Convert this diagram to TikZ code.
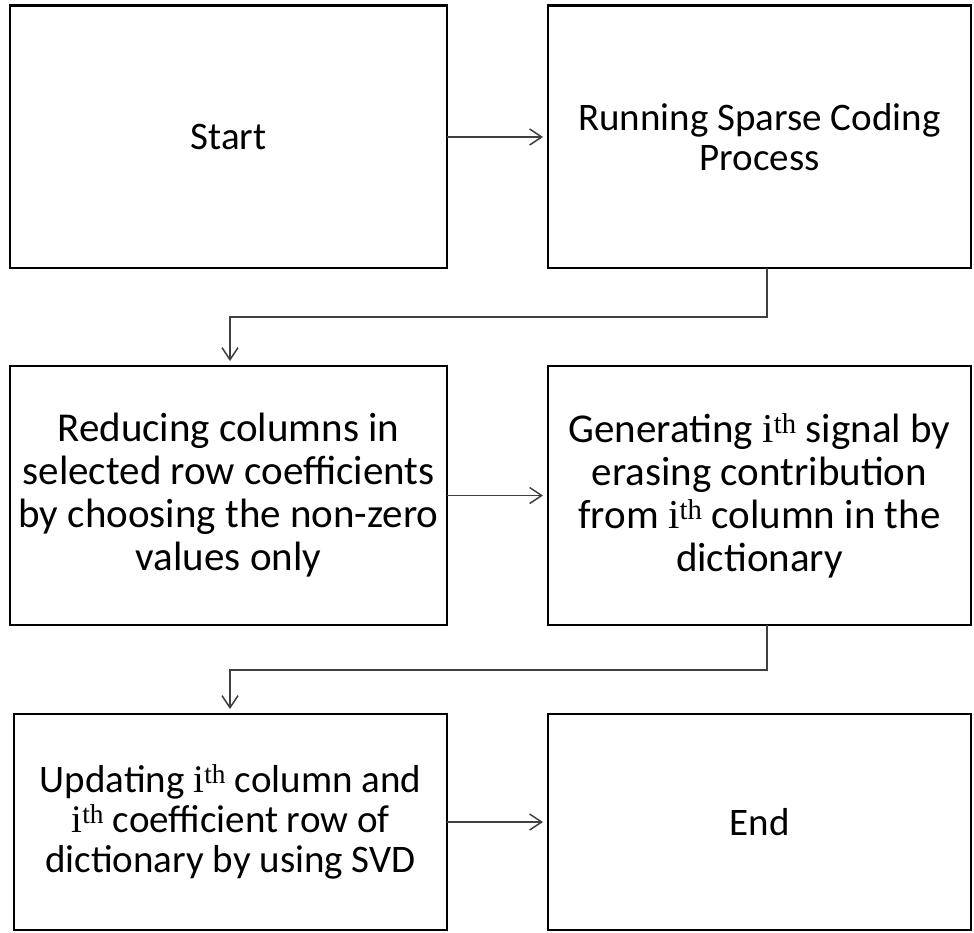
\documentclass[tikz,border=0pt]{standalone}
\usepackage{fontspec}
\setmainfont{Carlito}
\newfontfamily\ordfont{Liberation Serif}
\usetikzlibrary{arrows.meta}

\tikzset{
  stepbox/.style={draw=black, line width=2.6pt, fill=white},
  steptext/.style={inner sep=0pt, align=center, font=\fontsize{39}{40}\selectfont},
  bigtext/.style={steptext, font=\fontsize{41}{43}\selectfont},
  flow/.style={draw=black!75, line width=1.5pt,
    -{Straight Barb[length=12pt,width=16pt,line width=1.5pt]}, shorten >=5pt},
}
% ordinal index set in an upright serif face
\newcommand{\ith}{{\ordfont i\textsuperscript{th}}}

\begin{document}
\begin{tikzpicture}[x=1pt,y=-1pt]
  \useasboundingbox (0,0) rectangle (974,932);

  % row 1
  \draw[stepbox] (10,5.5) rectangle (447,268);
  \node[steptext] (start) at (228.5,137) {Start};
  \draw[stepbox] (548,5.5) rectangle (971,268);
  \node[steptext] (run) at (759.5,137) {Running Sparse Coding\\Process};

  % row 2
  \draw[stepbox] (10,366) rectangle (447,625);
  \node[bigtext] (reduce) at (228.5,495.5)
    {Reducing columns in\\selected row coefficients\\by choosing the non-zero\\values only};
  \draw[stepbox] (548,366) rectangle (971,625);
  \node[bigtext] (gen) at (759.5,495.5)
    {Generating \ith{} signal by\\erasing contribution\\from \ith{} column in the\\dictionary};

  % row 3
  \draw[stepbox] (14,714) rectangle (447,930);
  \node[steptext] (upd) at (230.5,822)
    {Updating \ith{} column and\\\ith{} coefficient row of\\dictionary by using SVD};
  \draw[stepbox] (548,714) rectangle (971,930);
  \node[steptext] (fin) at (759.5,822) {End};

  % box edges used by the connectors
  \coordinate (startR) at (447,137);
  \coordinate (runL) at (548,137);
  \coordinate (runB) at (767,268);
  \coordinate (redT) at (230,366);
  \coordinate (redR) at (447,495.5);
  \coordinate (genL) at (548,495.5);
  \coordinate (genB) at (767,625);
  \coordinate (updT) at (230,714);
  \coordinate (updR) at (447,822);
  \coordinate (finL) at (548,822);

  % connectors
  \draw[flow] (startR) -- (runL);
  \draw[flow] (runB) -- (767,317) -- (230,317) -- (redT);
  \draw[flow] (redR) -- (genL);
  \draw[flow] (genB) -- (767,670) -- (230,670) -- (updT);
  \draw[flow] (updR) -- (finL);
\end{tikzpicture}
\end{document}
